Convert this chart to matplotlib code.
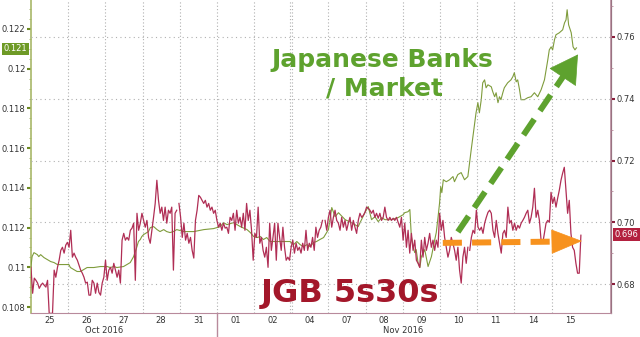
import numpy as np
import matplotlib
matplotlib.use('Agg')
import matplotlib.pyplot as plt
from matplotlib.ticker import MultipleLocator

# trading sessions on the x axis (one unit per session)
days = ['25', '26', '27', '28', '31', '01', '02', '04', '07', '08', '09', '10', '11', '14', '15']

# JGB 5s30s (right axis), read in four stretches
jgb_a = [0.6854, 0.6770, 0.6819, 0.6812, 0.6803, 0.6786, 0.6796, 0.6803, 0.6796, 0.6790,
         0.6812, 0.6705, 0.6705, 0.6705, 0.6845, 0.6822, 0.6854, 0.6877, 0.6909, 0.6919,
         0.6900, 0.6926, 0.6935, 0.6919, 0.6974, 0.6887, 0.6900, 0.6887, 0.6877, 0.6861,
         0.6845, 0.6835, 0.6822, 0.6803, 0.6806, 0.6764, 0.6764, 0.6812, 0.6803, 0.6770,
         0.6803, 0.6773, 0.6764, 0.6803, 0.6822, 0.6877, 0.6812, 0.6845, 0.6854, 0.6835,
         0.6867, 0.6845, 0.6822, 0.6845, 0.6803, 0.6942, 0.6964, 0.6942, 0.6951, 0.6942,
         0.6974, 0.6981, 0.6997, 0.6812, 0.7029, 0.6974, 0.6997, 0.7029, 0.7006, 0.6984,
         0.7006, 0.6951, 0.6932, 0.6974, 0.7016, 0.7061, 0.7136, 0.7071, 0.7029, 0.7049,
         0.7006, 0.7049, 0.6997, 0.7039, 0.7029, 0.7049, 0.6845, 0.7029, 0.7039]
jgb_b = [0.7061, 0.7016, 0.6951, 0.6997, 0.6942, 0.6964, 0.6932, 0.6951, 0.6909, 0.6884,
         0.7006, 0.7039, 0.7087, 0.7081, 0.7071, 0.7061, 0.7071, 0.7049, 0.7061, 0.7039,
         0.7049, 0.7029, 0.7039, 0.7006, 0.6984, 0.6997, 0.6974, 0.6997, 0.6981, 0.6984,
         0.6964, 0.7016, 0.7006, 0.7029, 0.6974, 0.7039, 0.6997, 0.7016, 0.6984, 0.7029,
         0.6974, 0.7061, 0.7006, 0.7039, 0.6974, 0.6877, 0.6964, 0.6951, 0.7049, 0.6932,
         0.6951, 0.6909, 0.6887, 0.6919, 0.6854, 0.6997, 0.6909, 0.6951, 0.6997, 0.6877,
         0.6997, 0.6951, 0.6909, 0.6984, 0.6919, 0.6877, 0.6887, 0.6877, 0.6919, 0.6942,
         0.6900, 0.6932, 0.6909, 0.6919, 0.6900, 0.6932, 0.6909, 0.6974, 0.6909, 0.6932,
         0.6919, 0.6951, 0.6909, 0.6984, 0.6951, 0.6974, 0.6984, 0.7006]
jgb_c = [0.7006, 0.6974, 0.7016, 0.7039, 0.6984, 0.7016, 0.7039, 0.7006, 0.6997, 0.6974,
         0.7016, 0.6984, 0.7006, 0.6974, 0.6997, 0.7016, 0.6974, 0.7006, 0.6984, 0.6964,
         0.7006, 0.7029, 0.7016, 0.7022, 0.7032, 0.7049, 0.7045, 0.7039, 0.7029, 0.7039,
         0.7016, 0.7029, 0.7013, 0.7029, 0.7006, 0.7016, 0.7049, 0.7016, 0.7006, 0.7016,
         0.7006, 0.7013, 0.7006, 0.7016, 0.7000, 0.6984, 0.7016, 0.6942, 0.6997, 0.6919,
         0.6974, 0.6900, 0.6964, 0.6909, 0.6942, 0.6877, 0.6867, 0.6854, 0.6942, 0.6887,
         0.6951, 0.6909, 0.6932, 0.6964, 0.6919, 0.6942, 0.6909, 0.6942, 0.6919, 0.7029,
         0.6974, 0.7006, 0.6951, 0.6919, 0.6887, 0.6909, 0.6951, 0.6932, 0.6909, 0.6877,
         0.6919, 0.6845, 0.6803, 0.6887, 0.6919, 0.6867, 0.6919]
jgb_d = [0.6909, 0.6951, 0.6974, 0.6964, 0.7039, 0.6984, 0.6974, 0.6984, 0.6964, 0.6997,
         0.7016, 0.7032, 0.7039, 0.7029, 0.6974, 0.6951, 0.7006, 0.6964, 0.6932, 0.6900,
         0.6964, 0.6974, 0.6951, 0.7049, 0.6997, 0.7006, 0.6974, 0.6997, 0.6974, 0.6990,
         0.6981, 0.6997, 0.7006, 0.7016, 0.7029, 0.7039, 0.6997, 0.7016, 0.7049, 0.7110,
         0.7016, 0.7039, 0.7006, 0.6942, 0.6932, 0.6964, 0.6997, 0.7006, 0.7000, 0.7097,
         0.7061, 0.7081, 0.7049, 0.7078, 0.7104, 0.7136, 0.7159, 0.7178, 0.7104, 0.7029,
         0.7071, 0.6964, 0.6919, 0.6909, 0.6867, 0.6835, 0.6835, 0.6958]
# session position where each stretch starts and ends
jgb_spans = [(0.0, 3.92), (3.98, 7.84), (7.91, 11.75), (11.80, 14.79)]

# Japanese Banks / Market (left axis)
banks_x = [0.00, 0.03, 0.08, 0.17, 0.21, 0.26, 0.35, 0.44, 0.53, 0.62, 0.71, 0.88, 1.02, 1.06, 1.15,
           1.24, 1.33, 1.42, 1.51, 1.69, 1.87, 2.05, 2.13, 2.23, 2.31, 2.49, 2.58, 2.67, 2.76, 2.85,
           2.89, 2.94, 2.98, 3.03, 3.12, 3.16, 3.21, 3.30, 3.39, 3.47, 3.57, 3.65, 3.74, 3.83, 3.92,
           4.11, 4.38, 4.65, 4.91, 5.09, 5.18, 5.27, 5.45, 5.63, 5.81, 5.90, 5.99, 6.08, 6.17, 6.25,
           6.34, 6.43, 6.70, 6.97, 7.06, 7.15, 7.24, 7.33, 7.42, 7.51, 7.60, 7.68, 7.77, 7.87, 8.00,
           8.09, 8.18, 8.27, 8.45, 8.62, 8.80, 8.89, 8.98, 9.07, 9.16, 9.25, 9.34, 9.43, 9.52, 9.69,
           9.87, 10.01, 10.05, 10.14, 10.19, 10.23, 10.28, 10.32, 10.36, 10.41, 10.46, 10.50, 10.59,
           10.68, 10.77, 10.86, 10.90, 10.95, 10.99, 11.02, 11.05, 11.09, 11.17, 11.26, 11.35, 11.39,
           11.48, 11.57, 11.66, 11.75,
           11.84, 11.97, 12.02, 12.06, 12.11, 12.15, 12.20, 12.24, 12.29, 12.38, 12.42, 12.47, 12.51,
           12.56, 12.60, 12.64, 12.69, 12.73, 12.82, 12.91, 12.96, 13.00, 13.05, 13.09, 13.14, 13.18,
           13.27, 13.36, 13.45, 13.54, 13.63, 13.72, 13.81, 13.90, 13.94, 13.99, 14.03, 14.08, 14.12,
           14.21, 14.30, 14.35, 14.39, 14.42, 14.46, 14.53, 14.58, 14.63, 14.67]
banks_v = [0.11004, 0.11054, 0.11074, 0.11064, 0.11054, 0.11064, 0.11049, 0.11039, 0.11029, 0.11024,
           0.11014, 0.11014, 0.11014, 0.10999, 0.10989, 0.10979, 0.10979, 0.10989, 0.10999, 0.10999,
           0.11004, 0.11004, 0.10999, 0.11004, 0.10999, 0.11004, 0.11014, 0.11024, 0.11054, 0.11104,
           0.11130, 0.11140, 0.11155, 0.11165, 0.11175, 0.11180, 0.11200, 0.11205, 0.11190, 0.11180,
           0.11190, 0.11180, 0.11175, 0.11180, 0.11190,
           0.11180, 0.11180, 0.11190, 0.11195, 0.11205, 0.11225, 0.11215, 0.11225, 0.11205, 0.11190,
           0.11175, 0.11155, 0.11150, 0.11155, 0.11140, 0.11150, 0.11130, 0.11130, 0.11130, 0.11114,
           0.11130, 0.11114, 0.11104, 0.11114, 0.11104, 0.11125, 0.11130, 0.11140, 0.11150, 0.11190,
           0.11301, 0.11255, 0.11275, 0.11240, 0.11225, 0.11205, 0.11240, 0.11275, 0.11306, 0.11240,
           0.11255, 0.11230, 0.11250, 0.11240, 0.11240, 0.11250, 0.11265, 0.11275, 0.11280, 0.11291,
           0.11155, 0.11104, 0.11074, 0.11089, 0.11024, 0.10999, 0.11054, 0.11089, 0.11004, 0.11054,
           0.11140, 0.11175, 0.11255, 0.11326, 0.11406, 0.11376, 0.11441, 0.11431, 0.11441, 0.11457,
           0.11431, 0.11467, 0.11477, 0.11441, 0.11457,
           0.11592, 0.11778, 0.11829, 0.11778, 0.11844, 0.11929, 0.11944, 0.11904, 0.11919, 0.11909,
           0.11884, 0.11859, 0.11879, 0.11829, 0.11859, 0.11844, 0.11879, 0.11904, 0.11929, 0.11944,
           0.11960, 0.11980, 0.11934, 0.11944, 0.11894, 0.11844, 0.11844, 0.11854, 0.11859, 0.11879,
           0.11859, 0.11894, 0.11944, 0.12045, 0.12095, 0.12110, 0.12095, 0.12146, 0.12171, 0.12181,
           0.12196, 0.12231, 0.12246, 0.12297, 0.12221, 0.12181, 0.12110, 0.12095, 0.12105]

GREEN_LINE = '#7f9c3c'
RED_LINE = '#b02e55'
MAUVE = '#b88a9c'

fig = plt.figure(figsize=(6.4, 3.37), dpi=100)
ax = fig.add_axes([0.0484, 0.0712, 0.9063, 0.9288])
ax2 = ax.twinx()

ax.set_xlim(0, 15.6)
ax.set_ylim(0.10770, 0.12346)
ax2.set_ylim(0.67061, 0.77198)

# vertical dotted separators between sessions (02/04 has a small gap -> two lines)
for b in [1, 2, 3, 4, 5, 6, 6.96, 7.03, 8, 9, 10, 11, 12, 13, 14]:
    ax.axvline(b, color='#b0b0b0', linestyle=(0, (1, 2)), lw=0.8, zorder=0)
# horizontal grid follows the right axis
ax2.set_yticks([0.68, 0.70, 0.72, 0.74, 0.76])
ax2.yaxis.set_minor_locator(MultipleLocator(0.01))
for g in [0.68, 0.70, 0.72, 0.74, 0.76]:
    ax2.axhline(g, color='#b0b0b0', linestyle=(0, (1, 3)), lw=0.8, zorder=0)

ax.plot(banks_x, banks_v, color=GREEN_LINE, lw=0.8, zorder=3)
for vals, (x0, x1) in zip([jgb_a, jgb_b, jgb_c, jgb_d], jgb_spans):
    ax2.plot(np.linspace(x0, x1, len(vals)), vals, color=RED_LINE, lw=0.9)

# left axis
ax.set_yticks([0.108, 0.11, 0.112, 0.114, 0.116, 0.118, 0.12, 0.122])
ax.set_yticklabels(['0.108', '0.11', '0.112', '0.114', '0.116', '0.118', '0.12', '0.122'])
ax.yaxis.set_minor_locator(MultipleLocator(0.0005))
ax.tick_params(axis='y', which='major', direction='out', length=3, width=1.5,
               color='#6d8a22', labelsize=6, labelcolor='#333333', pad=1)
ax.tick_params(axis='y', which='minor', direction='out', length=1.5, width=0.6, color='#9aab60')
ax2.set_yticklabels(['0.68', '0.70', '0.72', '0.74', '0.76'])
ax2.tick_params(axis='y', which='major', direction='out', length=3, width=1.5,
                color='#8a1f3c', labelsize=6, labelcolor='#333333', pad=1)
ax2.tick_params(axis='y', which='minor', direction='out', length=1.5, width=0.6, color=MAUVE)

ax.set_xticks(np.arange(len(days)) + 0.5)
ax.set_xticklabels(days)
ax.tick_params(axis='x', length=0, labelsize=6, labelcolor='#333333', pad=2)

for s in ['top']:
    ax.spines[s].set_visible(False)
    ax2.spines[s].set_visible(False)
ax2.spines['left'].set_visible(False)
ax2.spines['bottom'].set_visible(False)
ax.spines['left'].set_color('#a8b868')
ax.spines['left'].set_linewidth(1.2)
ax.spines['bottom'].set_color(MAUVE)
ax2.spines['right'].set_color(MAUVE)
ax2.spines['right'].set_linewidth(1.2)

# month labels and the month separator under the axis
xt = ax.get_xaxis_transform()
ax.text(1.97, -0.055, 'Oct 2016', transform=xt, ha='center', va='center', fontsize=6, color='#333333')
ax.text(10.0, -0.055, 'Nov 2016', transform=xt, ha='center', va='center', fontsize=6, color='#333333')
ax.plot([5, 5], [0, -0.08], transform=xt, color=MAUVE, lw=1, clip_on=False)

# last value badges
ax.text(-0.027, 0.121, '0.121', transform=ax.get_yaxis_transform(), ha='center', va='center',
        fontsize=6, color='white', bbox=dict(boxstyle='square,pad=0.2', fc='#6e9a26', ec='none'))
ax2.text(1.027, 0.696, '0.696', transform=ax2.get_yaxis_transform(), ha='center', va='center',
         fontsize=6, color='white', bbox=dict(boxstyle='square,pad=0.2', fc='#b3203f', ec='none'))

# annotations
ax2.text(0.605, 0.808, 'Japanese Banks', transform=ax2.transAxes, ha='center', va='center',
         fontsize=18, fontweight='bold', color='#5ea22e')
ax2.text(0.609, 0.717, '/ Market', transform=ax2.transAxes, ha='center', va='center',
         fontsize=18, fontweight='bold', color='#5ea22e')
ax2.text(0.550, 0.062, 'JGB 5s30s', transform=ax2.transAxes, ha='center', va='center',
         fontsize=23, fontweight='bold', color='#a3172a')

# dashed arrows
ax2.plot([0.736, 0.918], [0.259, 0.757], transform=ax2.transAxes, color='#5ea22e',
         lw=4.3, dashes=(3.2, 1.7), solid_capstyle='butt', dash_capstyle='butt', zorder=5)
ax2.annotate('', xy=(0.943, 0.826), xytext=(0.918, 0.757), xycoords='axes fraction',
             arrowprops=dict(arrowstyle='-|>,head_length=0.95,head_width=0.55', mutation_scale=20,
                             color='#5ea22e', lw=0.5, shrinkA=0, shrinkB=0), zorder=5)
ax2.plot([0.710, 0.900], [0.224, 0.228], transform=ax2.transAxes, color='#f7921e',
         lw=4.3, dashes=(3.2, 1.7), solid_capstyle='butt', dash_capstyle='butt', zorder=5)
ax2.annotate('', xy=(0.950, 0.230), xytext=(0.900, 0.228), xycoords='axes fraction',
             arrowprops=dict(arrowstyle='-|>,head_length=1.05,head_width=0.42', mutation_scale=20,
                             color='#f7921e', lw=0.5, shrinkA=0, shrinkB=0), zorder=5)

fig.savefig('out.png', dpi=100)
